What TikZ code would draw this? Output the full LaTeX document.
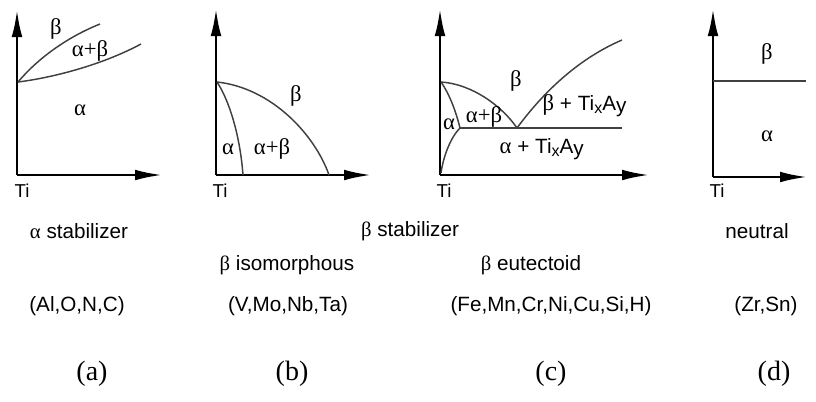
\documentclass[tikz,border=0pt]{standalone}
\usepackage{fontspec}
\setmainfont{Liberation Sans}
\newfontfamily\grk{Liberation Serif}
\usetikzlibrary{arrows.meta}

\tikzset{
  axis/.style={line width=2.2pt, -{Latex[length=21pt,width=8pt]}},
  phase/.style={line width=1.1pt, black!75},
  region/.style={font=\fontsize{17}{17}\grk},
  tilbl/.style={font=\fontsize{14}{14}\selectfont},
  note/.style={font=\fontsize{15.5}{16}\selectfont},
  sublbl/.style={font=\fontsize{21}{21}\grk},
}
\newcommand{\TiXA}{Ti\raisebox{-2pt}{\fontsize{12}{12}\selectfont x}A\raisebox{-1.5pt}{y}}

\begin{document}
\begin{tikzpicture}[x=0.75pt,y=-0.75pt]
\useasboundingbox (0,0) rectangle (816,401);

% (a) alpha stabilizer
\coordinate (Oa) at (17,175);
\coordinate (Ya) at (17,9);
\coordinate (Xa) at (163,175);
\coordinate (Pa) at (18,82);
\draw[axis] (Oa) -- (Ya);
\draw[axis] (Oa) -- (Xa);
\draw[phase] (Pa) .. controls (40,56) and (70,36) .. (100,24);
\draw[phase] (Pa) .. controls (50,78) and (100,66) .. (141,44);
\node[region] (a-b) at (56,29) {β};
\node[region] (a-ab) at (90,51) {α+β};
\node[region] (a-a) at (80,110) {α};
\node[tilbl] (a-ti) at (22,191) {Ti};

% (b) beta isomorphous
\coordinate (Ob) at (216,175);
\coordinate (Yb) at (216,8);
\coordinate (Xb) at (372,175);
\coordinate (Pb) at (217,82);
\draw[axis] (Ob) -- (Yb);
\draw[axis] (Ob) -- (Xb);
\draw[phase] (Pb) .. controls (272,88) and (315,135) .. (329,175);
\draw[phase] (Pb) .. controls (229,100) and (240,135) .. (243,175);
\node[region] (b-b) at (296,96) {β};
\node[region] (b-a) at (228,149) {α};
\node[region] (b-ab) at (272,149) {α+β};
\node[tilbl] (b-ti) at (220,191) {Ti};

% (c) beta eutectoid
\coordinate (Oc) at (440,175);
\coordinate (Yc) at (440,8);
\coordinate (Xc) at (650,175);
\coordinate (Pc) at (441,82);
\coordinate (Q) at (460,128);
\coordinate (E) at (517,128);
\draw[axis] (Oc) -- (Yc);
\draw[axis] (Oc) -- (Xc);
\draw[phase] (Pc) .. controls (472,84) and (502,106) .. (E);
\draw[phase] (Pc) .. controls (450,95) and (456,112) .. (Q);
\draw[phase] (Q) .. controls (450,138) and (443,158) .. (441,173);
\draw[phase] (Q) -- (622,128);
\draw[phase] (E) .. controls (545,90) and (580,58) .. (622,40);
\node[region] (c-b) at (516,81) {β};
\node[region] (c-a) at (449,124) {α};
\node[region] (c-ab) at (484,117) {α+β};
\node[note, anchor=west] (c-bt) at (538,106) {{\grk\fontsize{17}{17}\selectfont β} + \TiXA};
\node[note, anchor=west] (c-at) at (495,149) {{\grk\fontsize{17}{17}\selectfont α} + \TiXA};
\node[tilbl] (c-ti) at (444,191) {Ti};

% (d) neutral
\coordinate (Od) at (713,177);
\coordinate (Yd) at (713,8);
\coordinate (Xd) at (808,177);
\draw[axis] (Od) -- (Yd);
\draw[axis] (Od) -- (Xd);
\draw[phase] (713,81) -- (806,81);
\node[region] (d-b) at (767,54) {β};
\node[region] (d-a) at (767,136) {α};
\node[tilbl] (d-ti) at (717,191) {Ti};

% captions
\node[note] (sa) at (79,231) {{\grk α} stabilizer};
\node[note] (sb) at (410,231) {{\grk β} stabilizer};
\node[note] (sd) at (757,231) {neutral};
\node[note] (iso) at (287,265) {{\grk β} isomorphous};
\node[note] (eut) at (531,265) {{\grk β} eutectoid};
\node[note] (ea) at (77,306) {(Al,O,N,C)};
\node[note] (eb) at (288,306) {(V,Mo,Nb,Ta)};
\node[note] (ec) at (551,306) {(Fe,Mn,Cr,Ni,Cu,Si,H)};
\node[note] (ed) at (766,306) {(Zr,Sn)};
\node[sublbl] (la) at (92,374) {(a)};
\node[sublbl] (lb) at (292,374) {(b)};
\node[sublbl] (lc) at (551,374) {(c)};
\node[sublbl] (ld) at (774,374) {(d)};
\end{tikzpicture}
\end{document}
